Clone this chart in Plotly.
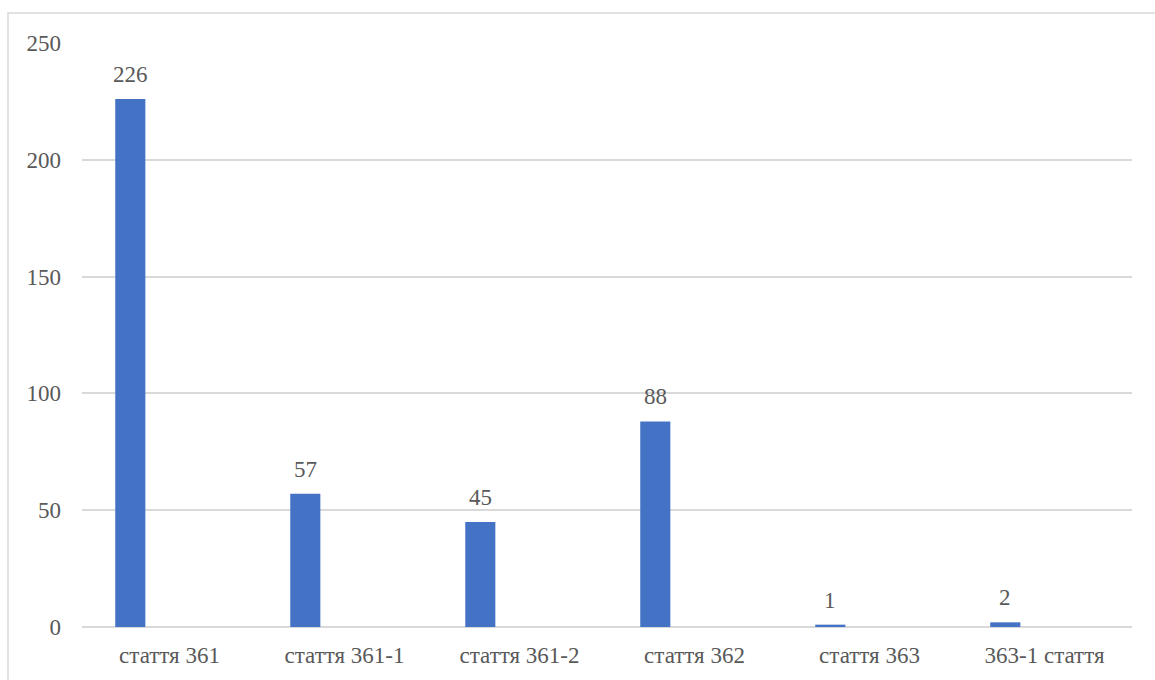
import plotly.graph_objects as go

categories = ["стаття 361", "стаття 361-1", "стаття 361-2", "стаття 362", "стаття 363", "363-1 стаття"]
values = [226, 57, 45, 88, 1, 2]
y_ticks = [0, 50, 100, 150, 200, 250]

FONT = "Times New Roman, Liberation Serif, Tinos, serif"
GRAY = "#595959"
FS = 23
BAR_W = 0.172
BAR_OFF = -0.31
PX_PER_CAT = 1050 / 6

fig = go.Figure()
fig.add_trace(go.Bar(
    x=categories, y=values,
    marker=dict(color="#4472C4", line=dict(width=0)),
    width=BAR_W, offset=BAR_OFF,
    hoverinfo="x+y",
))

annotations = [
    dict(x=c, y=v, xref="x", yref="y", text=str(v), showarrow=False,
         yanchor="bottom", xanchor="center",
         xshift=(BAR_OFF + BAR_W / 2) * PX_PER_CAT, yshift=10,
         font=dict(family=FONT, size=FS, color=GRAY))
    for c, v in zip(categories, values)
]

fig.update_layout(
    width=1155, height=680,
    margin=dict(l=82, r=23, t=43, b=53),
    paper_bgcolor="white", plot_bgcolor="white",
    showlegend=False,
    font=dict(family=FONT, size=FS, color=GRAY),
    annotations=annotations,
    xaxis=dict(
        type="category", range=[-0.5, 5.5],
        showgrid=False, showline=False, zeroline=False,
        ticks="", ticklabelstandoff=12,
        tickfont=dict(family=FONT, size=FS, color=GRAY),
    ),
    yaxis=dict(
        range=[0, 250], tickvals=y_ticks,
        showgrid=True, gridcolor="#D9D9D9", gridwidth=1.5,
        zeroline=True, zerolinecolor="#D9D9D9", zerolinewidth=1.5,
        showline=False, ticks="", ticklabelstandoff=20,
        tickfont=dict(family=FONT, size=FS, color=GRAY),
    ),
    shapes=[dict(
        type="rect", xref="paper", yref="paper",
        x0=(8 - 82) / 1050, x1=(1160 - 82) / 1050,
        y0=(627 - 685) / 584, y1=(627 - 13) / 584,
        line=dict(color="#D9D9D9", width=1.5), fillcolor="rgba(0,0,0,0)",
        layer="below",
    )],
)

fig.write_html("out.html")
